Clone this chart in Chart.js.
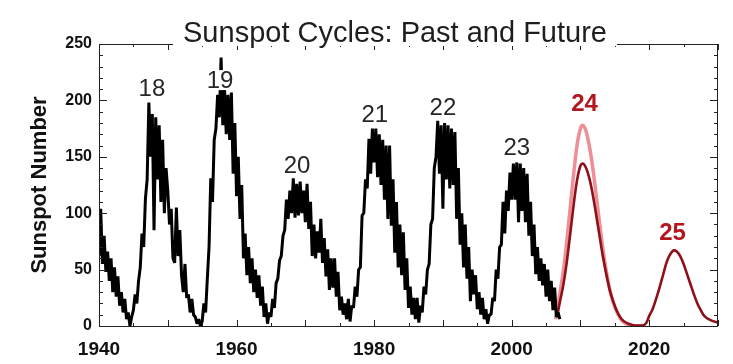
<!DOCTYPE html>
<html>
<head>
<meta charset="utf-8">
<script src="https://cdn.jsdelivr.net/npm/chart.js@4.4.1/dist/chart.umd.min.js"></script>
<style>
  html, body { margin: 0; padding: 0; background: #fff; }
</style>
</head>
<body>
<canvas id="sunspotChart" width="733" height="364"></canvas>
<script>
// observed monthly-ish sunspot numbers, every quarter from 1940.0
const obsStart = 1940;
const obsStep = 0.25;
const observedValues = [
    62, 104, 55, 80,   48, 66, 40, 60,    30, 52, 26, 44,    18, 30, 12, 24,    6, 12, 0, 8,
    14, 28, 20, 40,    52, 82, 70, 113,   130, 198, 150, 188, 85, 185, 130, 178, 110, 165, 100, 140,
    120, 90, 104, 60,  56, 105, 62, 85,   45, 30, 55, 25,    28, 12, 24, 10,    8, 2, 6, 0,
    4, 20, 12, 42,     70, 131, 110, 165, 175, 205, 185, 238, 178, 210, 170, 205, 165, 207, 135, 180,
    115, 150, 95, 125, 60, 82, 45, 70,    38, 60, 30, 50,    25, 45, 18, 35,    8, 20, 2, 12,
    8, 24, 16, 38,     42, 58, 62, 80,    85, 112, 95, 120,  100, 131, 96, 126, 98, 128, 100, 120,
    92, 126, 86, 110,  62, 90, 60, 84,    65, 95, 56, 78,    44, 68, 32, 60,    34, 60, 26, 48,
    14, 26, 10, 20,    6, 24, 4, 18,      16, 35, 26, 50,    52, 98, 100, 130,  122, 166, 135, 175,
    145, 175, 132, 170, 125, 165, 112, 160, 95, 160, 89, 130, 65, 110, 52, 90,  45, 83, 32, 60,
    16, 35, 10, 25,    6, 25, 3, 18,      12, 35, 28, 50,    55, 90, 95, 140,   150, 182, 135, 178,
    104, 180, 130, 178, 122, 175, 125, 172, 95, 140, 72, 100, 52, 90, 42, 70,   22, 50, 28, 45,
    15, 30, 10, 25,    6, 15, 2, 10,      10, 25, 22, 50,    42, 70, 72, 110,   82, 120, 102, 136,
    112, 144, 112, 145, 92, 144, 102, 140, 92, 135, 80, 110,  62, 90, 46, 70,    40, 60, 36, 55,
    26, 50, 22, 40,    14, 34, 8, 12,     6
];

// lower prediction for cycle 24 running on into cycle 25
const predLowYears = [2006.6, 2007.0, 2007.5, 2008.0, 2008.5, 2009.0, 2009.5, 2010.0, 2010.3, 2010.75,
    2011.25, 2011.75, 2012.25, 2012.75, 2013.25, 2013.75, 2014.25, 2014.75, 2015.25, 2016, 2017, 2018,
    2019, 2019.6, 2020, 2020.5, 2021, 2021.5, 2022, 2022.5, 2023, 2023.6, 2024, 2024.5, 2025, 2025.5,
    2026, 2026.5, 2027, 2027.5, 2028, 2029, 2030];
const predLowValues = [8, 21, 36, 56, 81, 107, 129, 142, 144, 141,
    132, 118, 100, 81, 62, 46, 32, 22, 14, 6, 2, 0.5,
    0.5, 3, 9, 15, 24, 34, 45, 56, 63, 67, 66, 62, 55, 46,
    37, 28, 20, 14, 9, 5, 3];

// higher prediction for cycle 24
const predHighYears = [2006.4, 2007.0, 2007.5, 2008.0, 2008.5, 2009.0, 2009.5, 2010.0, 2010.3, 2010.75,
    2011.25, 2011.75, 2012.25, 2012.75, 2013.25, 2013.75, 2014.25, 2014.75, 2015.25, 2016, 2017, 2018, 2019];
const predHighValues = [6, 29, 48, 74, 104, 134, 160, 175, 178, 174,
    161, 142, 118, 93, 69, 49, 33, 21, 13, 5, 1, 0, 0];

// cycle numbers and where they sit (year, sunspot number)
const cycleNames = ['18', '19', '20', '21', '22', '23', '24', '25'];
const cycleLabelYears = [1947.7, 1957.6, 1968.8, 1980.1, 1990.0, 2000.75, 2010.6, 2023.4];
const cycleLabelValues = [211, 218, 142, 188, 194, 158, 197, 83];

const FONT = "'Liberation Sans', Arial, Helvetica, sans-serif";

const observed = observedValues.map((v, i) => ({ x: obsStart + i * obsStep, y: v }));
const predLow = predLowYears.map((yr, i) => ({ x: yr, y: predLowValues[i] }));
const predHigh = predHighYears.map((yr, i) => ({ x: yr, y: predHighValues[i] }));

const frameAndLabels = {
    id: 'frameAndLabels',
    afterDraw(chart) {
        const ctx = chart.ctx;
        const area = chart.chartArea;
        const xs = chart.scales.x;
        const ys = chart.scales.y;
        ctx.save();

        // frame
        ctx.strokeStyle = '#222';
        ctx.lineWidth = 1;
        ctx.strokeRect(area.left + 0.5, area.top + 0.5, area.right - area.left - 1, area.bottom - area.top);

        // inward ticks
        ctx.beginPath();
        for (let v = 0; v <= 250; v += 10) {
            const py = Math.round(ys.getPixelForValue(v)) + 0.5;
            const len = v % 50 === 0 ? 8 : 4;
            ctx.moveTo(area.left, py); ctx.lineTo(area.left + len, py);
            ctx.moveTo(area.right, py); ctx.lineTo(area.right - len, py);
        }
        for (let yr = 1940; yr <= 2030; yr += 5) {
            const px = Math.round(xs.getPixelForValue(yr)) + 0.5;
            const len = yr % 10 === 0 ? 6 : 3;
            ctx.moveTo(px, area.bottom); ctx.lineTo(px, area.bottom - len);
            ctx.moveTo(px, area.top); ctx.lineTo(px, area.top + len);
        }
        ctx.stroke();

        // cycle numbers
        cycleNames.forEach((name, i) => {
            const px = xs.getPixelForValue(cycleLabelYears[i]);
            const py = ys.getPixelForValue(cycleLabelValues[i]);
            const future = i >= 6;
            ctx.font = (future ? '600 ' : '') + '24px ' + FONT;
            const w = ctx.measureText(name).width;
            ctx.fillStyle = '#fff';
            ctx.fillRect(px - w / 2 - 1, py - 10, w + 2, 20);
            ctx.fillStyle = future ? '#b3161f' : '#262626';
            ctx.textAlign = 'center';
            ctx.textBaseline = 'middle';
            ctx.fillText(name, px, py + 1);
        });

        // title over the top frame
        ctx.font = '29px ' + FONT;
        const title = 'Sunspot Cycles: Past and Future';
        const tw = ctx.measureText(title).width;
        const cx = 395;
        ctx.fillStyle = '#fff';
        ctx.fillRect(cx - tw / 2 - 10, 10, tw + 20, area.top - 8);
        ctx.fillStyle = '#1e1e1e';
        ctx.textAlign = 'center';
        ctx.textBaseline = 'alphabetic';
        ctx.fillText(title, cx, 42);
        ctx.restore();
    }
};

new Chart(document.getElementById('sunspotChart').getContext('2d'), {
    type: 'line',
    data: {
        datasets: [
            {
                label: 'Observed',
                data: observed,
                borderColor: '#000',
                borderWidth: 3,
                borderJoinStyle: 'bevel',
                pointRadius: 0,
                tension: 0,
                order: 0
            },
            {
                label: 'Prediction (low)',
                data: predLow,
                borderColor: '#8e1019',
                borderWidth: 2.6,
                pointRadius: 0,
                cubicInterpolationMode: 'monotone',
                order: 1
            },
            {
                label: 'Prediction (high)',
                data: predHigh,
                borderColor: '#ee8e95',
                borderWidth: 3.5,
                pointRadius: 0,
                cubicInterpolationMode: 'monotone',
                order: 2
            }
        ]
    },
    options: {
        responsive: false,
        animation: false,
        layout: {
            padding: { top: 44, right: 15, left: 0, bottom: 0 }
        },
        plugins: {
            legend: { display: false },
            tooltip: { enabled: false },
            title: { display: false }
        },
        scales: {
            x: {
                type: 'linear',
                min: 1940,
                max: 2030,
                grid: { display: false, drawTicks: false },
                border: { display: false },
                ticks: {
                    stepSize: 20,
                    includeBounds: false,
                    maxRotation: 0,
                    padding: 12,
                    color: '#111',
                    font: { family: FONT, size: 19, weight: 'bold' },
                    callback: function(value) {
                        return value % 20 === 0 ? String(value) : '';
                    }
                },
                afterFit: function(scale) {
                    scale.height = 38;
                }
            },
            y: {
                min: 0,
                max: 250,
                grid: { display: false, drawTicks: false },
                border: { display: false },
                ticks: {
                    stepSize: 50,
                    padding: 7,
                    color: '#111',
                    font: { family: FONT, size: 16, weight: 'bold' }
                },
                title: {
                    display: true,
                    text: 'Sunspot Number',
                    color: '#111',
                    font: { family: FONT, size: 22, weight: 'bold' },
                    padding: { top: 27, bottom: 0 }
                },
                afterFit: function(scale) {
                    scale.width = 99;
                }
            }
        }
    },
    plugins: [frameAndLabels]
});
</script>
</body>
</html>
